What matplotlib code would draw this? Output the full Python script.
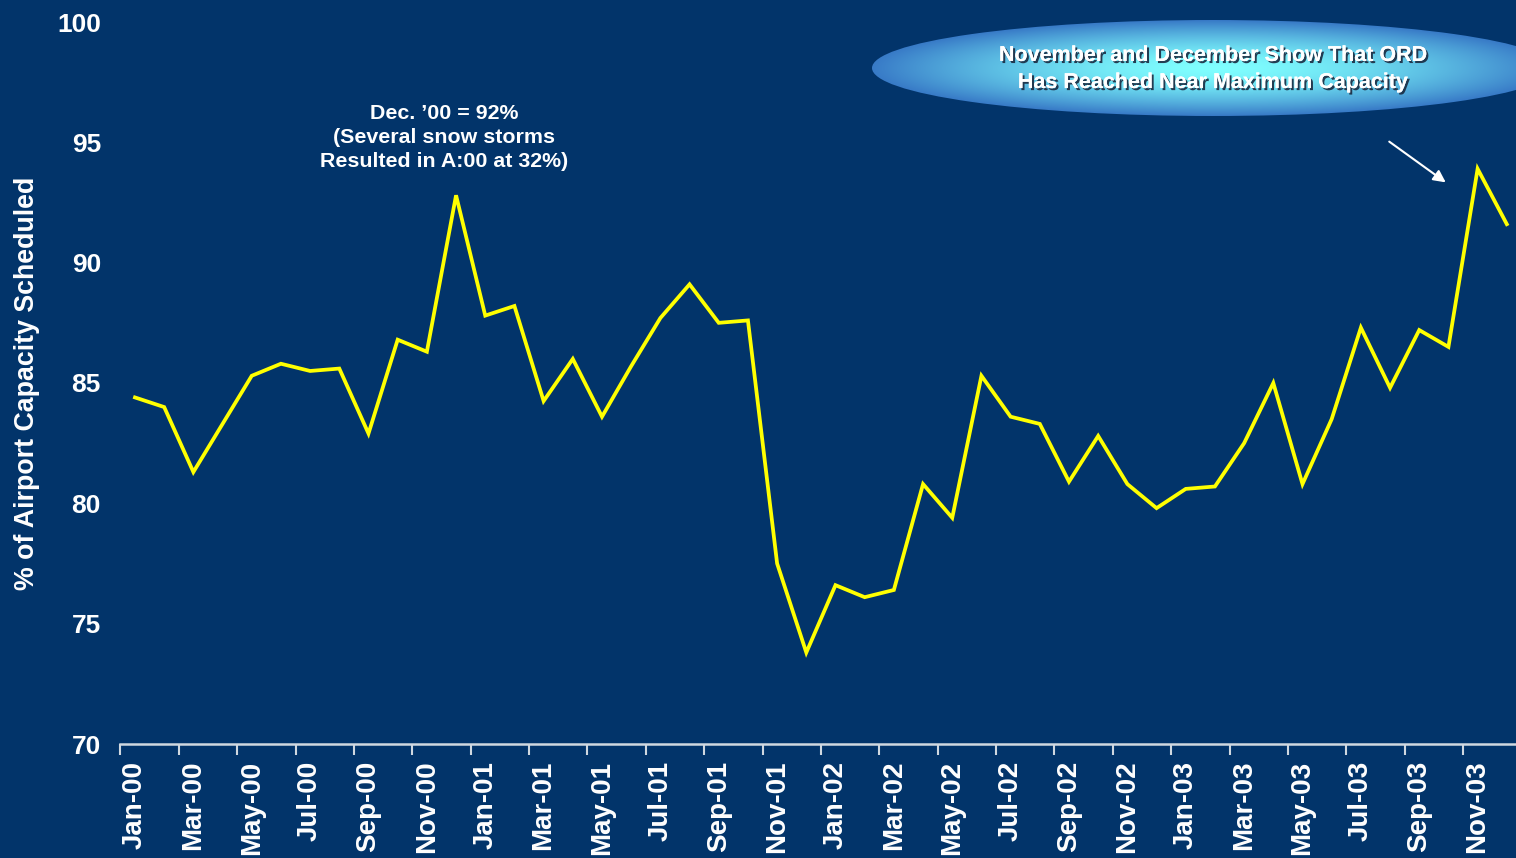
import numpy as np
import matplotlib
matplotlib.use("Agg")
import matplotlib.pyplot as plt
import matplotlib.patheffects as pe
from matplotlib.patches import Ellipse

plt.rcParams['font.family'] = ['Liberation Sans', 'DejaVu Sans']
plt.rcParams['font.weight'] = 'bold'

# monthly share of airport capacity scheduled, Jan-00 .. Dec-03
months = [f"{m}-{y:02d}" for y in range(0, 4)
          for m in ["Jan", "Feb", "Mar", "Apr", "May", "Jun",
                    "Jul", "Aug", "Sep", "Oct", "Nov", "Dec"]]
pct = [84.4, 84.0, 81.3, 83.3, 85.3, 85.8, 85.5, 85.6, 82.9, 86.8, 86.3, 92.8,
       87.8, 88.2, 84.25, 86.0, 83.6, 85.7, 87.7, 89.1, 87.5, 87.6, 77.5, 73.8,
       76.6, 76.1, 76.4, 80.8, 79.4, 85.3, 83.6, 83.3, 80.9, 82.8, 80.8, 79.8,
       80.6, 80.7, 82.5, 85.0, 80.8, 83.5, 87.3, 84.8, 87.2, 86.5, 93.9, 91.6]
yticks = [70, 75, 80, 85, 90, 95, 100]

bg = '#02346a'
W, H = 1516, 858
fig = plt.figure(figsize=(W / 100, H / 100), dpi=100, facecolor=bg)
ax = fig.add_axes([120.4 / W, 114 / H, 1401 / W, 722 / H], facecolor=bg)

x = np.arange(len(months))
ax.plot(x, pct, color='#ffff00', lw=2.7, solid_joinstyle='miter')

ax.set_xlim(-0.5, len(months) - 0.5)
ax.set_ylim(70, 100)
ax.set_yticks(yticks)
ax.set_yticklabels([str(v) for v in yticks], fontsize=19, color='white', fontweight='bold')
ax.tick_params(axis='y', length=0, pad=14)

ax.set_xticks(x[::2])
ax.set_xticklabels(months[::2], rotation=90, fontsize=20, color='white', fontweight='bold')
ax.set_xticks(np.arange(-0.5, len(months), 2), minor=True)
ax.tick_params(axis='x', which='major', length=0, pad=12)
ax.tick_params(axis='x', which='minor', length=8, width=1.5, color='#d0d8e0', direction='out')

for s in ['top', 'right', 'left']:
    ax.spines[s].set_visible(False)
ax.spines['bottom'].set_color('#d0d8e0')
ax.spines['bottom'].set_linewidth(1.8)

ax.set_ylabel('% of Airport Capacity Scheduled', fontsize=19.3, color='white',
              fontweight='bold')
ax.yaxis.set_label_coords(-80 / 1401, 0.5)

ax.text(10.59, 93.8, "Dec. \u201900 = 92%\n(Several snow storms\nResulted in A:00 at 32%)",
        ha='center', va='bottom', fontsize=15.4, color='white', fontweight='bold',
        linespacing=1.33)

# overlay in pixel coordinates for the callout
ov = fig.add_axes([0, 0, 1, 1], facecolor='none')
ov.set_xlim(0, W)
ov.set_ylim(H, 0)
ov.axis('off')

cx, cy, ew, eh = 1213, 68, 682, 96
ell = Ellipse((cx, cy), ew, eh, facecolor='none', edgecolor='none')
ov.add_patch(ell)
gx, gy = np.meshgrid(np.linspace(-1, 1, 400), np.linspace(-1, 1, 100))
r = np.clip(np.sqrt(gx ** 2 + gy ** 2), 0, 1) ** 1.6
c_in = np.array([0.50, 1.0, 1.0])
c_out = np.array([0.22, 0.48, 0.78])
img = c_in[None, None, :] * (1 - r[..., None]) + c_out[None, None, :] * r[..., None]
im = ov.imshow(img, extent=(cx - ew / 2, cx + ew / 2, cy + eh / 2, cy - eh / 2),
               aspect='auto', interpolation='bilinear')
im.set_clip_path(ell)

ov.text(cx, cy + 1, "November and December Show That ORD\nHas Reached Near Maximum Capacity",
        ha='center', va='center', fontsize=15.5, color='white', fontweight='bold',
        linespacing=1.38,
        path_effects=[pe.withSimplePatchShadow(offset=(1.5, -1.5), shadow_rgbFace='#1a2a40', alpha=0.9),
                      pe.Normal()])

ov.annotate('', xy=(1448, 184), xytext=(1387, 140),
            arrowprops=dict(arrowstyle='-|>', color='white', lw=1.5, mutation_scale=18))

fig.savefig('out.png', dpi=100, facecolor=bg)
